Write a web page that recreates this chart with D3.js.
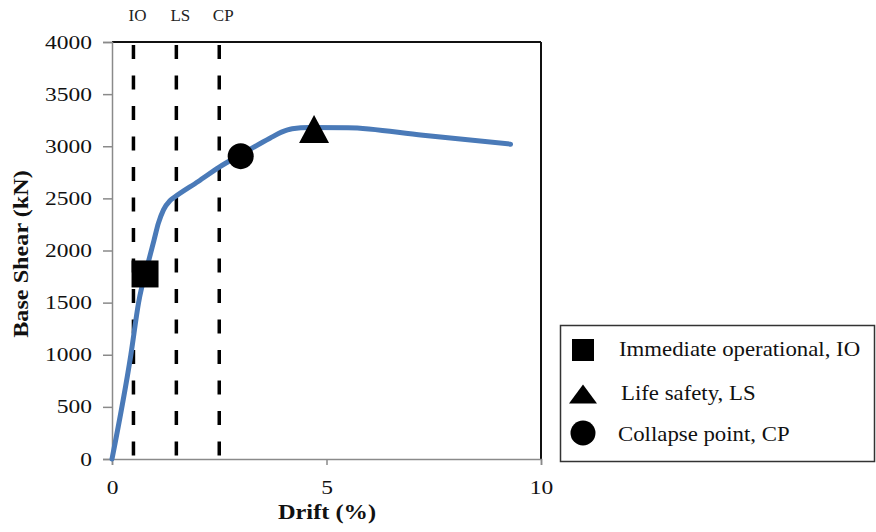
<!DOCTYPE html>
<html>
<head>
<meta charset="utf-8">
<script src="https://cdn.jsdelivr.net/npm/d3@7/dist/d3.min.js"></script>
<style>
  html, body { margin: 0; padding: 0; background: #fff; }
  svg { display: block; }
  text { font-family: "Liberation Serif", "Times New Roman", serif; fill: #111; }
</style>
</head>
<body>
<svg id="chart" width="876" height="532"></svg>
<script>
// Pushover curve: drift (%) vs base shear (kN)
const drift = [0, 0.44, 0.62, 0.86, 0.98, 1.08, 1.20, 1.35, 1.47, 2.01, 2.5, 3.0, 3.68, 3.95, 4.2, 4.6, 5.5, 7.25, 9.29];
const shear = [0, 1000, 1500, 1910, 2100, 2260, 2390, 2478, 2515, 2662, 2800, 2920, 3077, 3135, 3168, 3180, 3178, 3105, 3020];

// Performance levels (vertical dashed limits)
const limitNames = ["IO", "LS", "CP"];
const limitDrift = [0.5, 1.5, 2.5];

// Performance points on the curve
const pointNames = ["Immediate operational, IO", "Life safety, LS", "Collapse point, CP"];
const pointShapes = ["square", "triangle", "circle"];
const pointDrift = [0.77, 4.71, 3.0];
const pointShear = [1775, 3165, 2905];

// Axis ticks
const xTicks = [0, 5, 10];
const yTicks = [0, 500, 1000, 1500, 2000, 2500, 3000, 3500, 4000];

const svg = d3.select("#chart");
const plotLeft = 112, plotRight = 541, plotTop = 42, plotBottom = 459;

const x = d3.scaleLinear().domain([0, 10]).range([plotLeft, plotRight]);
const y = d3.scaleLinear().domain([0, 4000]).range([plotBottom, plotTop]);

// Frame: top and right borders are black, axes are grey
svg.append("line").attr("x1", plotLeft).attr("x2", plotRight).attr("y1", plotTop).attr("y2", plotTop)
  .attr("stroke", "#111").attr("stroke-width", 2);
svg.append("line").attr("x1", plotRight).attr("x2", plotRight).attr("y1", plotTop).attr("y2", plotBottom)
  .attr("stroke", "#111").attr("stroke-width", 2);

// Y axis
const yAxis = d3.axisLeft(y).tickValues(yTicks).tickSize(9).tickPadding(0).tickFormat(d3.format("d"));
const gy = svg.append("g").attr("transform", `translate(${plotLeft},0)`).call(yAxis);
gy.select(".domain").attr("stroke", "#8a8a8a").attr("stroke-width", 1.5);
gy.selectAll(".tick line").attr("stroke", "#8a8a8a").attr("stroke-width", 1.5);
gy.selectAll(".tick text").remove();
gy.selectAll(".tick").append("text")
  .attr("transform", "translate(-20,6) scale(1.27,1)")
  .attr("text-anchor", "end")
  .style("font-size", "18.5px")
  .text(d => d);

// X axis
const xAxis = d3.axisBottom(x).tickValues(xTicks).tickSize(6).tickPadding(0);
const gx = svg.append("g").attr("transform", `translate(0,${plotBottom})`).call(xAxis);
gx.select(".domain").attr("stroke", "#8a8a8a").attr("stroke-width", 1.5);
gx.selectAll(".tick line").attr("stroke", "#8a8a8a").attr("stroke-width", 1.5);
gx.selectAll(".tick text").remove();
gx.selectAll(".tick").append("text")
  .attr("transform", "translate(0,35) scale(1.27,1)")
  .attr("text-anchor", "middle")
  .style("font-size", "18.5px")
  .text(d => d);

// Axis titles
svg.append("text")
  .attr("transform", "translate(327,519) scale(1.22,1)")
  .attr("text-anchor", "middle")
  .style("font-size", "20px").style("font-weight", "bold")
  .text("Drift (%)");
svg.append("text")
  .attr("transform", "translate(28,254) rotate(-90) scale(1.21,1)")
  .attr("text-anchor", "middle")
  .style("font-size", "20px").style("font-weight", "bold")
  .text("Base Shear (kN)");

// Dashed performance limits with labels above the plot
const limits = svg.append("g");
limitNames.forEach((name, i) => {
  limits.append("line")
    .attr("x1", x(limitDrift[i])).attr("x2", x(limitDrift[i]))
    .attr("y1", plotTop + 3).attr("y2", plotBottom)
    .attr("stroke", "#000").attr("stroke-width", 3.5)
    .attr("stroke-dasharray", "14,16.5");
  limits.append("text")
    .attr("x", x(limitDrift[i]) + 4).attr("y", 21)
    .attr("text-anchor", "middle")
    .style("font-size", "17px").style("fill", "#222")
    .text(name);
});

// Pushover curve
const curve = drift.map((d, i) => [d, shear[i]]);
svg.append("path")
  .datum(curve)
  .attr("fill", "none")
  .attr("stroke", "#4a7ab8")
  .attr("stroke-width", 5)
  .attr("stroke-linejoin", "round")
  .attr("stroke-linecap", "round")
  .attr("d", d3.line().x(d => x(d[0])).y(d => y(d[1])).curve(d3.curveMonotoneX));

// Marker shapes
function markerPath(shape, s) {
  const p = d3.path();
  if (shape === "square") {
    p.rect(-s.w / 2, -s.h / 2, s.w, s.h);
  } else if (shape === "triangle") {
    p.moveTo(0, -s.h / 2); p.lineTo(s.w / 2, s.h / 2); p.lineTo(-s.w / 2, s.h / 2); p.closePath();
  } else {
    p.arc(0, 0, s.w / 2, 0, 2 * Math.PI);
  }
  return p.toString();
}
const plotSize = { square: { w: 27, h: 27 }, triangle: { w: 30, h: 28 }, circle: { w: 26, h: 26 } };
const legendSize = { square: { w: 22, h: 22 }, triangle: { w: 28, h: 19 }, circle: { w: 25, h: 25 } };

pointShapes.forEach((shape, i) => {
  svg.append("path")
    .attr("transform", `translate(${x(pointDrift[i])},${y(pointShear[i])})`)
    .attr("d", markerPath(shape, plotSize[shape]))
    .attr("fill", "#000");
});

// Legend
const legend = svg.append("g");
legend.append("rect")
  .attr("x", 560.5).attr("y", 325.5).attr("width", 314).attr("height", 136)
  .attr("fill", "#fff").attr("stroke", "#333").attr("stroke-width", 1.5);
const legendY = [350, 394, 433];
const legendBase = [356, 400, 441];
pointShapes.forEach((shape, i) => {
  legend.append("path")
    .attr("transform", `translate(583,${legendY[i]})`)
    .attr("d", markerPath(shape, legendSize[shape]))
    .attr("fill", "#000");
  legend.append("text")
    .attr("transform", `translate(${[619, 621, 618][i]},${legendBase[i]}) scale(1.14,1)`)
    .style("font-size", "20px")
    .text(pointNames[i]);
});
</script>
</body>
</html>
